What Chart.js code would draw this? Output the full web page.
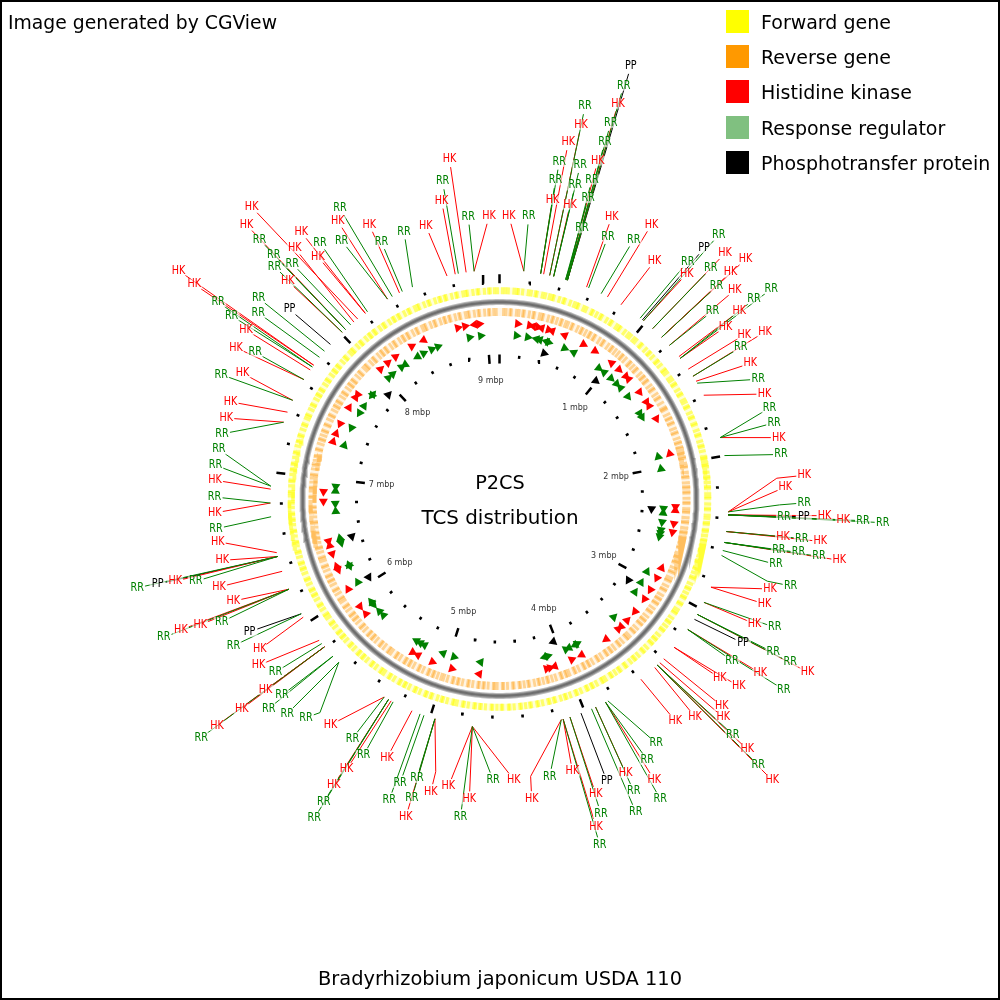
<!DOCTYPE html>
<html lang="en">
<head>
    <meta charset="UTF-8">
    <title>P2CS TCS distribution</title>
    <script src="https://cdn.jsdelivr.net/npm/chart.js"></script>
    <style>
        body { margin: 0; background: #fff; font-family: "DejaVu Sans", sans-serif; color: #000; }
        #wrap { position: relative; width: 1000px; height: 1000px; overflow: hidden; }
        #wrap canvas { position: absolute; left: 0; top: 0; }
        #frame { position: absolute; inset: 0; border: 2px solid #000; pointer-events: none; }
        .txt { position: absolute; white-space: nowrap; line-height: 1; }
        .mid { left: 0; width: 1000px; text-align: center; }
        .swatch { position: absolute; left: 726px; width: 23px; height: 23px; }
    </style>
</head>
<body>
<div id="wrap">
    <canvas id="map" width="1000" height="1000"></canvas>
    <div id="legend"></div>
    <div class="txt" style="left:8px;top:14px;font-size:18.8px">Image generated by CGView</div>
    <div class="txt mid" style="top:473px;font-size:19.3px">P2CS</div>
    <div class="txt mid" style="top:508px;font-size:19.9px">TCS distribution</div>
    <div class="txt mid" style="top:969px;font-size:19.4px">Bradyrhizobium japonicum USDA 110</div>
    <div id="frame"></div>
</div>

<script>
    const genomeLength = 9.106; // mbp

    const legendNames = ['Forward gene', 'Reverse gene', 'Histidine kinase', 'Response regulator', 'Phosphotransfer protein'];
    const legendColors = ['#ffff00', '#ff9900', '#ff0000', '#80c080', '#000000'];

    const majorTicks = [0, 1, 2, 3, 4, 5, 6, 7, 8, 9];
    const minorTicks = [0.2, 0.4, 0.6, 0.8, 1.2, 1.4, 1.6, 1.8, 2.2, 2.4, 2.6, 2.8, 3.2, 3.4, 3.6, 3.8, 4.2, 4.4, 4.6, 4.8,
        5.2, 5.4, 5.6, 5.8, 6.2, 6.4, 6.6, 6.8, 7.2, 7.4, 7.6, 7.8, 8.2, 8.4, 8.6, 8.8];
    const tickLabels = ['1 mbp', '2 mbp', '3 mbp', '4 mbp', '5 mbp', '6 mbp', '7 mbp', '8 mbp', '9 mbp'];

    // gene starts on each strand, mbp (read off the rings, approximate)
    const forwardGenes = [0.01, 0.03, 0.05, 0.09, 0.11, 0.12, 0.15, 0.19, 0.21, 0.24, 0.25, 0.29, 0.31, 0.34, 0.36, 0.37, 0.41, 0.44, 0.45, 0.49,
        0.52, 0.54, 0.55, 0.59, 0.61, 0.65, 0.66, 0.69, 0.72, 0.73, 0.77, 0.80, 0.81, 0.85, 0.87, 0.88, 0.92, 0.95, 0.97,
        1.00, 1.02, 1.06, 1.07, 1.11, 1.14, 1.15, 1.18, 1.22, 1.23, 1.26, 1.30, 1.31, 1.33, 1.37, 1.39, 1.42, 1.43, 1.47, 1.50, 1.51,
        1.55, 1.57, 1.60, 1.61, 1.65, 1.68, 1.69, 1.73, 1.74, 1.78, 1.81, 1.82, 1.86, 1.89, 1.90, 1.93, 1.97, 1.98,
        2.01, 2.03, 2.04, 2.08, 2.11, 2.12, 2.15, 2.18, 2.19, 2.23, 2.25, 2.26, 2.30, 2.33, 2.34, 2.38, 2.40, 2.43, 2.44, 2.48, 2.49, 2.52,
        2.55, 2.56, 2.59, 2.62, 2.63, 2.67, 2.70, 2.71, 2.75, 2.76, 2.79, 2.82, 2.83, 2.87, 2.90, 2.91, 2.94, 2.97, 2.98,
        3.02, 3.03, 3.07, 3.09, 3.10, 3.14, 3.17, 3.18, 3.21, 3.24, 3.25, 3.29, 3.32, 3.33, 3.36, 3.37, 3.41, 3.44, 3.45, 3.49,
        3.52, 3.53, 3.56, 3.60, 3.61, 3.65, 3.66, 3.69, 3.72, 3.73, 3.77, 3.79, 3.80, 3.84, 3.87, 3.88, 3.91, 3.92, 3.96, 3.99,
        4.00, 4.04, 4.07, 4.08, 4.11, 4.15, 4.16, 4.19, 4.20, 4.24, 4.27, 4.28, 4.32, 4.33, 4.36, 4.39, 4.40, 4.44, 4.47, 4.48,
        4.52, 4.53, 4.56, 4.59, 4.60, 4.64, 4.67, 4.68, 4.71, 4.72, 4.76, 4.79, 4.80, 4.84, 4.86, 4.87, 4.91, 4.94, 4.95, 4.98,
        5.02, 5.03, 5.06, 5.07, 5.11, 5.14, 5.15, 5.19, 5.22, 5.23, 5.26, 5.27, 5.31, 5.34, 5.35, 5.39, 5.41, 5.42, 5.46, 5.49,
        5.50, 5.54, 5.57, 5.58, 5.61, 5.62, 5.66, 5.69, 5.70, 5.74, 5.77, 5.78, 5.81, 5.82, 5.86, 5.89, 5.90, 5.94, 5.96, 5.97,
        6.01, 6.04, 6.05, 6.09, 6.12, 6.13, 6.16, 6.17, 6.21, 6.24, 6.25, 6.29, 6.32, 6.33, 6.36, 6.37, 6.41, 6.44, 6.45, 6.49,
        6.51, 6.52, 6.56, 6.59, 6.60, 6.64, 6.67, 6.68, 6.71, 6.72, 6.76, 6.79, 6.80, 6.84, 6.86, 6.87, 6.91, 6.94, 6.95, 6.99,
        7.02, 7.03, 7.06, 7.07, 7.11, 7.14, 7.15, 7.19, 7.22, 7.23, 7.26, 7.27, 7.31, 7.34, 7.35, 7.39, 7.41, 7.42, 7.46, 7.49,
        7.50, 7.54, 7.57, 7.58, 7.61, 7.62, 7.66, 7.69, 7.70, 7.74, 7.77, 7.78, 7.81, 7.82, 7.86, 7.89, 7.90, 7.94, 7.96, 7.97,
        8.01, 8.04, 8.05, 8.09, 8.12, 8.13, 8.16, 8.17, 8.21, 8.24, 8.25, 8.29, 8.32, 8.33, 8.36, 8.37, 8.41, 8.44, 8.45, 8.49,
        8.51, 8.52, 8.56, 8.59, 8.60, 8.64, 8.67, 8.68, 8.71, 8.72, 8.76, 8.79, 8.80, 8.84, 8.86, 8.87, 8.91, 8.94, 8.95, 8.99, 9.02, 9.03, 9.06, 9.08];

    const reverseGenes = [0.02, 0.04, 0.07, 0.08, 0.12, 0.14, 0.17, 0.18, 0.22, 0.25, 0.26, 0.30, 0.32, 0.33, 0.37, 0.40, 0.41, 0.44, 0.47, 0.48,
        0.51, 0.53, 0.56, 0.57, 0.61, 0.64, 0.65, 0.68, 0.71, 0.72, 0.75, 0.76, 0.80, 0.83, 0.84, 0.88, 0.91, 0.92, 0.95, 0.98,
        1.01, 1.02, 1.05, 1.09, 1.10, 1.13, 1.16, 1.17, 1.21, 1.24, 1.25, 1.28, 1.29, 1.33, 1.36, 1.37, 1.41, 1.44, 1.45, 1.49,
        1.53, 1.54, 1.55, 1.59, 1.62, 1.63, 1.66, 1.67, 1.71, 1.74, 1.75, 1.79, 1.82, 1.83, 1.86, 1.87, 1.91, 1.94, 1.95, 1.99,
        2.01, 2.02, 2.06, 2.09, 2.10, 2.14, 2.17, 2.18, 2.21, 2.22, 2.26, 2.29, 2.30, 2.34, 2.36, 2.37, 2.41, 2.44, 2.45, 2.49,
        2.52, 2.53, 2.56, 2.57, 2.61, 2.64, 2.65, 2.69, 2.72, 2.73, 2.76, 2.77, 2.81, 2.84, 2.85, 2.89, 2.91, 2.92, 2.96, 2.99,
        3.00, 3.04, 3.07, 3.08, 3.11, 3.12, 3.16, 3.19, 3.20, 3.24, 3.27, 3.28, 3.31, 3.32, 3.36, 3.39, 3.40, 3.44, 3.46, 3.47,
        3.51, 3.54, 3.55, 3.59, 3.62, 3.63, 3.66, 3.67, 3.71, 3.74, 3.75, 3.79, 3.82, 3.83, 3.86, 3.87, 3.91, 3.94, 3.95, 3.99,
        4.01, 4.02, 4.05, 4.06, 4.10, 4.13, 4.16, 4.17, 4.20, 4.23, 4.24, 4.27, 4.31, 4.32, 4.35, 4.38, 4.39, 4.43, 4.44, 4.48,
        4.51, 4.52, 4.56, 4.58, 4.59, 4.63, 4.66, 4.67, 4.70, 4.71, 4.75, 4.78, 4.79, 4.83, 4.86, 4.87, 4.90, 4.91, 4.95, 4.98,
        5.00, 5.03, 5.06, 5.07, 5.10, 5.11, 5.15, 5.18, 5.19, 5.23, 5.26, 5.27, 5.30, 5.31, 5.35, 5.38, 5.39, 5.43, 5.45, 5.46,
        5.50, 5.53, 5.54, 5.58, 5.61, 5.62, 5.65, 5.66, 5.70, 5.73, 5.74, 5.78, 5.81, 5.82, 5.85, 5.86, 5.90, 5.93, 5.94, 5.98,
        6.00, 6.01, 6.05, 6.08, 6.09, 6.13, 6.16, 6.17, 6.20, 6.21, 6.25, 6.28, 6.29, 6.33, 6.35, 6.36, 6.40, 6.43, 6.44, 6.48,
        6.51, 6.52, 6.55, 6.56, 6.60, 6.63, 6.64, 6.68, 6.71, 6.72, 6.75, 6.76, 6.80, 6.83, 6.84, 6.88, 6.90, 6.91, 6.95, 6.98,
        7.00, 7.01, 7.05, 7.08, 7.09, 7.12, 7.15, 7.16, 7.20, 7.21, 7.25, 7.28, 7.29, 7.32, 7.35, 7.36, 7.40, 7.41, 7.45, 7.48,
        7.49, 7.53, 7.56, 7.57, 7.60, 7.61, 7.65, 7.68, 7.69, 7.73, 7.76, 7.77, 7.80, 7.81, 7.85, 7.88, 7.89, 7.93, 7.95, 7.96,
        8.00, 8.03, 8.04, 8.08, 8.11, 8.12, 8.15, 8.16, 8.20, 8.23, 8.24, 8.28, 8.31, 8.32, 8.35, 8.36, 8.40, 8.43, 8.44, 8.48,
        8.50, 8.51, 8.55, 8.58, 8.59, 8.63, 8.66, 8.67, 8.70, 8.71, 8.75, 8.78, 8.79, 8.83, 8.85, 8.86, 8.90, 8.93, 8.94, 8.98, 9.01, 9.02, 9.05, 9.07];

    // TCS genes: position in mbp, strand +1 clockwise / -1 anticlockwise
    const hkPositions = [0.15, 0.25, 0.28, 0.32, 0.35, 0.41, 0.44, 0.55, 0.72, 0.83, 1.00, 1.08, 1.16, 1.19, 1.33, 1.43, 1.47, 1.59, 1.90, 2.34,
        2.37, 2.48, 2.55, 2.86, 2.95, 3.06, 3.15, 3.28, 3.38, 3.45, 3.48, 3.61, 3.85, 3.94, 4.09, 4.13, 4.16, 4.72, 4.95, 5.12,
        5.25, 5.30, 5.80, 5.88, 6.05, 6.26, 6.23, 6.37, 6.44, 6.48, 6.81, 6.89, 7.31, 7.38, 7.47, 7.62, 7.72, 7.75, 8.03, 8.11,
        8.19, 8.35, 8.46, 8.76, 8.82, 8.90, 8.94];
    const hkStrands = [1, 1, -1, 1, -1, 1, -1, -1, 1, 1, -1, 1, 1, -1, 1, 1, -1, 1, -1, 1,
        -1, 1, 1, -1, 1, 1, 1, 1, -1, 1, -1, 1, 1, -1, 1, -1, -1, 1, -1, -1,
        1, -1, 1, -1, 1, 1, -1, -1, 1, -1, -1, -1, 1, 1, -1, 1, 1, -1, 1, 1,
        1, 1, -1, 1, 1, -1, 1];
    const rrPositions = [0.15, 0.25, 0.33, 0.36, 0.42, 0.44, 0.59, 0.68, 0.94, 1.00, 1.08, 1.15, 1.20, 1.30, 1.48, 1.52, 1.90, 2.01, 2.36, 2.40,
        2.48, 2.55, 2.58, 2.61, 2.94, 3.05, 3.15, 3.44, 3.84, 3.86, 3.92, 3.95, 4.12, 4.15, 4.72, 4.96, 5.06, 5.24, 5.28, 5.32,
        5.69, 5.74, 5.82, 5.85, 6.06, 6.22, 6.23, 6.44, 6.48, 6.72, 6.79, 6.90, 6.94, 7.31, 7.48, 7.63, 7.70, 7.82, 7.83, 8.03,
        8.08, 8.18, 8.22, 8.35, 8.41, 8.49, 8.55, 8.84, 8.94];
    const rrStrands = [1, 1, -1, -1, -1, 1, 1, -1, 1, -1, 1, 1, -1, 1, 1, 1, -1, -1, 1, -1,
        1, 1, 1, 1, -1, -1, -1, -1, -1, 1, 1, -1, -1, 1, 1, -1, 1, 1, 1, 1,
        1, 1, -1, 1, 1, -1, 1, -1, 1, 1, -1, 1, -1, 1, -1, -1, 1, -1, 1, 1,
        1, 1, -1, -1, 1, 1, 1, 1, 1];
    const ppPositions = [0.43, 0.99, 2.37, 3.09, 4.03, 6.05, 6.47, 7.92];
    const ppStrands = [1, 1, 1, 1, 1, -1, -1, 1];

    // callouts: gene position on the map, then where the label sits
    const calloutKinds = ['HK','RR','HK','RR','RR','HK','HK','RR','HK','RR',
        'RR','RR','RR','RR','HK','RR','RR','HK','RR','PP',
        'HK','RR','RR','HK','HK','RR','PP','HK','RR','RR',
        'HK','RR','HK','HK','RR','HK','HK','HK','RR','RR',
        'HK','RR','HK','HK','RR','HK','RR','RR','HK','RR',
        'HK','HK','RR','RR','PP','HK','HK','RR','RR','HK',
        'RR','HK','RR','RR','RR','HK','RR','RR','HK','HK',
        'HK','RR','RR','RR','HK','PP','RR','HK','RR','HK',
        'HK','HK','HK','RR','HK','RR','HK','HK','HK','RR',
        'RR','HK','RR','HK','RR','RR','PP','HK','RR','HK',
        'HK','RR','RR','HK','HK','RR','HK','RR','HK','HK',
        'RR','RR','HK','RR','RR','HK','RR','HK','HK','RR',
        'RR','RR','HK','RR','RR','RR','RR','HK','HK','HK',
        'RR','RR','HK','HK','PP','RR','HK','RR','HK','HK',
        'RR','HK','RR','HK','PP','RR','HK','HK','RR','HK',
        'RR','HK','RR','RR','RR','HK','HK','HK','RR','RR',
        'HK','HK','RR','RR','HK','HK','RR','RR','PP','HK',
        'RR','RR','RR','HK','RR','HK','HK','HK','HK','RR',
        'RR','HK','RR','HK','RR','RR','HK','HK','RR','HK',
        'RR','HK'];
    const calloutGene = [0.154,0.154,0.262,0.262,0.262,0.281,0.320,0.320,0.346,0.346,
        0.346,0.424,0.424,0.430,0.430,0.436,0.436,0.436,0.436,0.436,
        0.565,0.579,0.666,0.711,0.810,0.958,0.976,0.985,0.985,1.061,
        1.061,1.140,1.140,1.140,1.211,1.211,1.304,1.318,1.318,1.318,
        1.403,1.457,1.457,1.494,1.508,1.595,1.883,1.883,1.883,2.000,
        2.358,2.358,2.358,2.377,2.377,2.377,2.377,2.377,2.377,2.483,
        2.483,2.483,2.553,2.553,2.553,2.553,2.605,2.637,2.849,2.849,
        2.955,2.955,3.042,3.042,3.042,3.078,3.155,3.155,3.155,3.297,
        3.297,3.395,3.430,3.452,3.452,3.452,3.452,3.474,3.589,3.839,
        3.856,3.856,3.856,3.926,3.926,3.954,4.026,4.100,4.100,4.145,
        4.145,4.145,4.157,4.157,4.725,4.725,4.725,4.725,4.725,4.967,
        4.967,4.967,4.967,5.040,5.066,5.121,5.253,5.267,5.286,5.286,
        5.286,5.317,5.317,5.680,5.680,5.733,5.733,5.813,5.813,5.813,
        5.813,5.840,5.866,6.044,6.069,6.069,6.243,6.243,6.243,6.243,
        6.243,6.364,6.462,6.462,6.462,6.462,6.462,6.487,6.717,6.804,
        6.804,6.892,6.911,6.911,7.325,7.325,7.393,7.475,7.475,7.624,
        7.624,7.697,7.720,7.720,7.734,7.734,7.796,7.846,7.903,8.010,
        8.010,8.037,8.037,8.037,8.081,8.108,8.139,8.199,8.199,8.216,
        8.366,8.366,8.400,8.451,8.471,8.541,8.771,8.824,8.844,8.894,
        8.945,8.945];
    const labelAt = [0.048,0.149,0.254,0.252,0.254,0.276,0.311,0.311,0.341,0.343,
        0.344,0.429,0.415,0.408,0.410,0.416,0.417,0.422,0.423,0.427,
        0.549,0.568,0.692,0.733,0.837,0.972,0.992,1.005,1.004,1.075,
        1.076,1.153,1.152,1.157,1.229,1.224,1.313,1.333,1.312,1.323,
        1.420,1.463,1.462,1.558,1.648,1.730,1.805,1.884,1.963,2.049,
        2.164,2.216,2.295,2.367,2.361,2.351,2.364,2.363,2.366,2.468,
        2.465,2.467,2.540,2.533,2.534,2.535,2.613,2.697,2.742,2.823,
        2.936,2.909,3.017,3.019,3.018,3.051,3.157,3.130,3.133,3.266,
        3.239,3.363,3.397,3.422,3.422,3.435,3.437,3.493,3.582,3.726,
        3.806,3.823,3.840,3.928,3.929,3.958,4.026,4.096,4.101,4.174,
        4.138,4.144,4.294,4.398,4.479,4.586,4.698,4.730,4.808,4.887,
        4.970,4.966,4.968,5.041,5.062,5.147,5.260,5.299,5.314,5.315,
        5.315,5.351,5.484,5.603,5.683,5.761,5.766,5.838,5.839,5.850,
        5.852,5.876,5.954,6.018,6.122,6.099,6.299,6.226,6.253,6.265,
        6.263,6.389,6.446,6.470,6.476,6.481,6.514,6.612,6.678,6.759,
        6.840,6.925,7.001,7.083,7.164,7.247,7.332,7.489,7.439,7.613,
        7.585,7.682,7.699,7.714,7.718,7.726,7.782,7.837,7.894,7.989,
        7.991,8.024,8.024,8.026,8.060,8.114,8.086,8.174,8.180,8.220,
        8.311,8.342,8.378,8.464,8.482,8.609,8.724,8.828,8.849,8.894,
        8.946,9.053];
    const labelRadius = [286,287,307,327,346,367,387,406,306,326,
        347,286,317,336,356,376,396,417,436,457,
        307,287,295,317,287,306,327,296,347,316,
        337,307,327,347,287,318,308,287,327,347,
        298,288,317,288,288,288,288,288,289,288,
        309,289,308,288,308,329,348,368,388,289,
        308,327,287,307,328,349,287,307,288,288,
        287,307,317,337,357,286,286,317,346,287,
        307,307,316,335,356,375,396,296,286,293,
        303,324,344,305,325,345,305,314,334,285,
        345,364,285,305,284,284,305,324,295,304,
        294,315,335,304,324,285,293,314,334,354,
        373,284,285,295,305,315,296,305,336,366,
        386,286,296,286,286,307,288,307,328,348,
        367,297,318,338,356,377,287,288,288,288,
        288,288,289,288,288,288,289,289,308,288,
        307,308,328,347,377,398,308,317,286,307,
        327,336,357,377,317,327,387,306,336,316,
        306,325,335,307,286,287,286,307,326,347,
        287,286];
    // the few callouts that bend on the way out, keyed by labelAt
    const elbowLabel = [2.164, 2.295, 2.697, 4.398, 4.887, 5.603];
    const elbowAt = [2.168, 2.307, 2.708, 4.391, 4.886, 5.566];
    const elbowRadius = [281, 283, 283, 282, 283, 282];

    const kindColors = { HK: '#ff0000', RR: '#008000', PP: '#000000' };

    // map position (mbp, radius) -> x/y on the scales, 0 mbp at the top, clockwise
    function polar(mbp, r) {
        const a = mbp / genomeLength * 2 * Math.PI;
        return { x: r * Math.sin(a), y: r * Math.cos(a) };
    }
    const GAP = { x: NaN, y: NaN };

    function tickPoints(list, r0, r1) {
        const pts = [];
        list.forEach(p => pts.push(polar(p, r0), polar(p, r1), GAP));
        return pts;
    }
    // every other gene goes in its own dataset so that overlaps add up to a stronger colour
    function genePoints(list, r, part) {
        const pts = [];
        list.forEach((p, i) => { if (i % 2 === part) pts.push(polar(p, r), polar(p + 0.022, r), GAP); });
        return pts;
    }
    function circlePoints(r) {
        const pts = [];
        for (let d = 0; d <= 360; d++) pts.push(polar(d / 360 * genomeLength, r));
        return pts;
    }
    function calloutPoints(kind) {
        const pts = [];
        calloutKinds.forEach((k, i) => {
            if (k !== kind) return;
            pts.push(polar(calloutGene[i], 231.5));
            let prev = polar(calloutGene[i], 231.5);
            const e = elbowLabel.indexOf(labelAt[i]);
            if (e >= 0) { prev = polar(elbowAt[e], elbowRadius[e]); pts.push(prev); }
            const lab = polar(labelAt[i], labelRadius[i]);
            const dx = lab.x - prev.x, dy = lab.y - prev.y, len = Math.hypot(dx, dy);
            pts.push({ x: lab.x - dx / len * 8, y: lab.y - dy / len * 8 }, GAP);
        });
        return pts;
    }
    function line(data, color, width, order) {
        return { data, showLine: true, borderColor: color, borderWidth: width, pointRadius: 0, order, spanGaps: false, borderCapStyle: 'butt' };
    }
    function arrows(positions, strands, r, color) {
        return {
            data: positions.map(p => polar(p, r)),
            showLine: false,
            pointStyle: 'triangle',
            pointRadius: 5.2,
            backgroundColor: color,
            borderColor: color,
            borderWidth: 0,
            // triangles follow the circle, nose pointing along the strand
            pointRotation: ctx => positions[ctx.dataIndex] / genomeLength * 360 + 90 * strands[ctx.dataIndex],
            order: 1
        };
    }

    // text that has to move with the scales: callout labels and tick labels
    const mapText = {
        id: 'mapText',
        afterDatasetsDraw(chart) {
            const { ctx, scales: { x, y } } = chart;
            ctx.save();
            ctx.textAlign = 'center';
            ctx.textBaseline = 'middle';
            ctx.font = '11.5px "DejaVu Sans"';
            calloutKinds.forEach((k, i) => {
                const p = polar(labelAt[i], labelRadius[i]);
                const px = x.getPixelForValue(p.x), py = y.getPixelForValue(p.y);
                ctx.fillStyle = 'rgba(255,255,255,0.6)';
                ctx.fillRect(px - 8, py - 5, 16, 10);
                ctx.fillStyle = kindColors[k];
                // the reference face is narrower than DejaVu
                ctx.save();
                ctx.translate(px, py);
                ctx.scale(0.84, 1);
                ctx.fillText(k, 0, 0);
                ctx.restore();
            });
            ctx.font = '8px "DejaVu Sans"';
            ctx.fillStyle = '#333';
            tickLabels.forEach((t, i) => {
                const p = polar(i + 1, 120);
                ctx.fillText(t, x.getPixelForValue(p.x), y.getPixelForValue(p.y));
            });
            ctx.restore();
        }
    };

    new Chart(document.getElementById('map'), {
        type: 'scatter',
        data: {
            datasets: [
                arrows(hkPositions, hkStrands, 178, kindColors.HK),
                arrows(rrPositions, rrStrands, 166, kindColors.RR),
                arrows(ppPositions, ppStrands, 154, kindColors.PP),
                line(calloutPoints('PP'), kindColors.PP, 1, 4),
                line(calloutPoints('HK'), kindColors.HK, 1, 3),
                line(calloutPoints('RR'), kindColors.RR, 1, 2),
                line(genePoints(forwardGenes, 210.5, 0), 'rgba(255,255,0,0.5)', 7, 5),
                line(genePoints(forwardGenes, 210.5, 1), 'rgba(255,255,0,0.5)', 7, 6),
                line(circlePoints(210.5), 'rgba(255,255,0,0.16)', 7, 7),
                line(genePoints(reverseGenes, 189, 0), 'rgba(255,153,0,0.36)', 8, 5),
                line(genePoints(reverseGenes, 189, 1), 'rgba(255,153,0,0.36)', 8, 6),
                line(circlePoints(189), 'rgba(255,153,0,0.1)', 8, 7),
                line(circlePoints(198.9), '#6e6e6e', 2, 7),
                line(circlePoints(199), '#8f8f8f', 4, 8),
                line(circlePoints(199), '#bdbdbd', 6, 9),
                line(tickPoints(majorTicks, 218, 227), '#000', 2.5, 10),
                line(tickPoints(majorTicks, 137, 146), '#000', 2.5, 10),
                line(tickPoints(minorTicks, 219, 222), '#000', 2.5, 10),
                line(tickPoints(minorTicks, 143, 146), '#000', 2.5, 10)
            ]
        },
        options: {
            responsive: false,
            animation: false,
            layout: { padding: 0 },
            plugins: { legend: { display: false }, tooltip: { enabled: false } },
            scales: {
                x: { type: 'linear', display: false, min: -499.5, max: 500.5 },
                y: { type: 'linear', display: false, min: -501, max: 499 }
            }
        },
        plugins: [mapText]
    });

    // legend, top right
    const legendTops = [10, 45, 80, 116, 151];
    document.getElementById('legend').innerHTML = legendNames.map((name, i) =>
        `<div class="swatch" style="top:${legendTops[i]}px;background:${legendColors[i]}"></div>` +
        `<div class="txt" style="left:761px;top:${legendTops[i] + 3}px;font-size:19px">${name}</div>`).join('');
</script>
</body>
</html>
